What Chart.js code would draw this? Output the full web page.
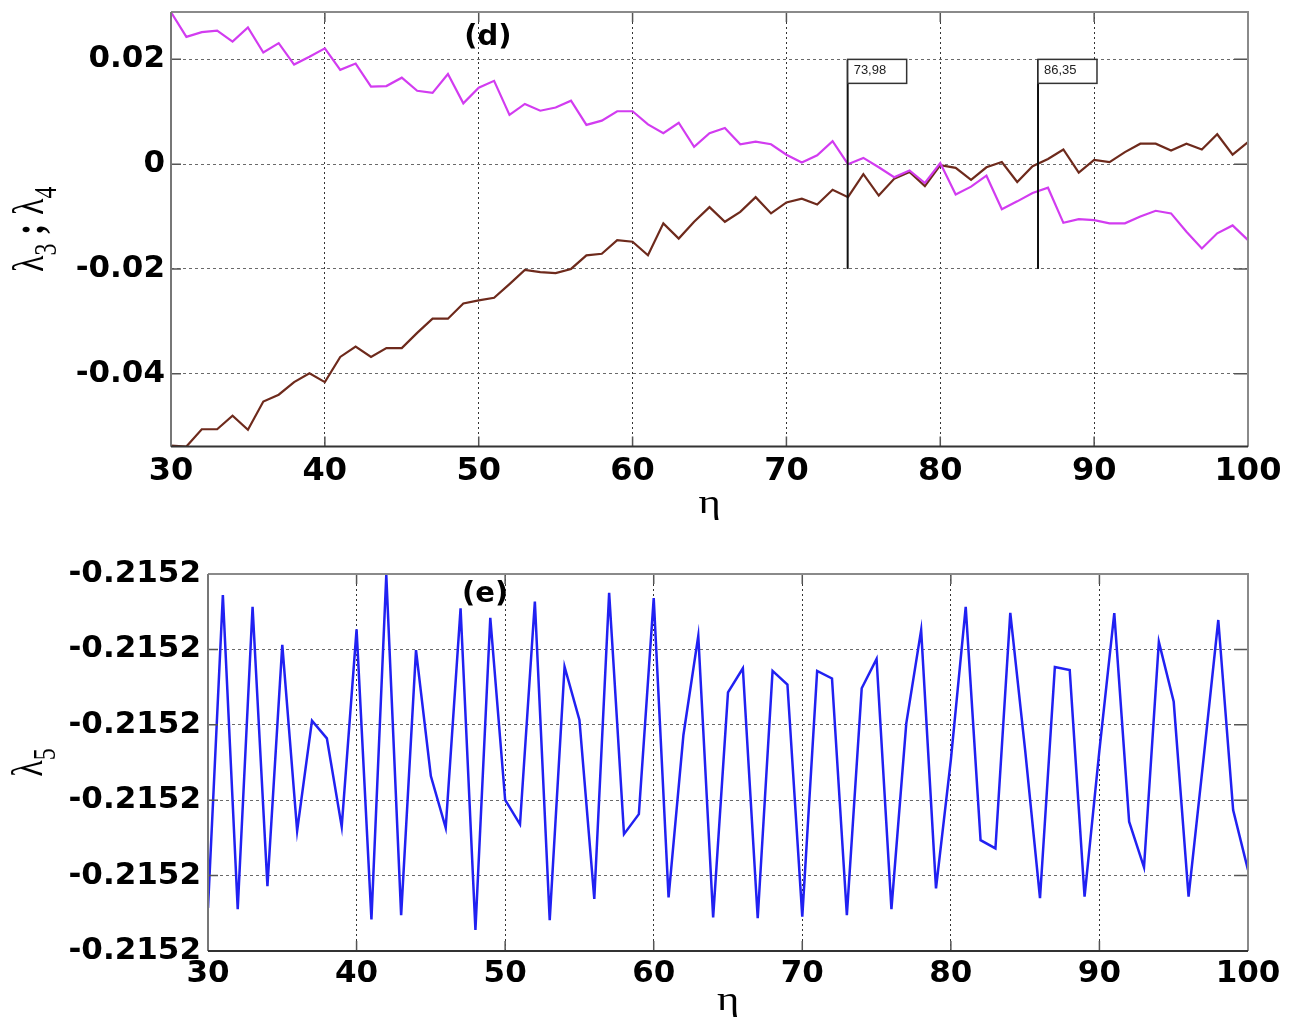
<!DOCTYPE html>
<html>
<head>
<meta charset="utf-8">
<title>Lyapunov exponents versus eta</title>
<script src="https://cdn.jsdelivr.net/npm/chart.js@4.4.1/dist/chart.umd.min.js"></script>
<style>
  html, body { margin: 0; padding: 0; background: #fff; }
  body { width: 1299px; height: 1017px; position: relative; overflow: hidden; }
  .panel { position: absolute; left: 0; width: 1299px; }
  #wrapD { top: 0; height: 525px; }
  #wrapE { top: 530px; height: 487px; }
</style>
</head>
<body>
<div class="panel" id="wrapD"><canvas id="chartD"></canvas></div>
<div class="panel" id="wrapE"><canvas id="chartE"></canvas></div>
<script>
// control parameter
const eta = [30, 31, 32, 33, 34, 35, 36, 37, 38, 39, 40, 41, 42, 43, 44, 45, 46, 47, 48, 49,
             50, 51, 52, 53, 54, 55, 56, 57, 58, 59, 60, 61, 62, 63, 64, 65, 66, 67, 68, 69,
             70, 71, 72, 73, 74, 75, 76, 77, 78, 79, 80, 81, 82, 83, 84, 85, 86, 87, 88, 89,
             90, 91, 92, 93, 94, 95, 96, 97, 98, 99, 100];

// panel (d): third and fourth exponents
const lambda3 = [0.0290, 0.0243, 0.0252, 0.0255, 0.0234, 0.0261, 0.0213, 0.0231, 0.0190, 0.0205,
                 0.0221, 0.0180, 0.0192, 0.0148, 0.0149, 0.0165, 0.0140, 0.0136, 0.0172, 0.0116,
                 0.0146, 0.0159, 0.0094, 0.0115, 0.0102, 0.0108, 0.0121, 0.0075, 0.0083, 0.0101,
                 0.0101, 0.0076, 0.0059, 0.0079, 0.0033, 0.0059, 0.0069, 0.0038, 0.0043, 0.0038,
                 0.0018, 0.0003, 0.0017, 0.0044, 0.0000, 0.0012, -0.0006, -0.0025, -0.0012, -0.0036,
                 0.0002, -0.0058, -0.0043, -0.0022, -0.0086, -0.0071, -0.0055, -0.0045, -0.0112, -0.0105,
                 -0.0107, -0.0113, -0.0113, -0.0100, -0.0089, -0.0094, -0.0129, -0.0161, -0.0132, -0.0117,
                 -0.0145];
const lambda4 = [-0.0537, -0.0539, -0.0506, -0.0506, -0.0480, -0.0507, -0.0453, -0.0440, -0.0416, -0.0399,
                 -0.0416, -0.0368, -0.0348, -0.0368, -0.0351, -0.0351, -0.0322, -0.0295, -0.0295, -0.0266,
                 -0.0260, -0.0255, -0.0229, -0.0202, -0.0206, -0.0208, -0.0200, -0.0174, -0.0171, -0.0145,
                 -0.0148, -0.0174, -0.0113, -0.0142, -0.0110, -0.0082, -0.0110, -0.0091, -0.0063, -0.0094,
                 -0.0073, -0.0066, -0.0077, -0.0049, -0.0063, -0.0019, -0.0060, -0.0028, -0.0015, -0.0042,
                 -0.0002, -0.0007, -0.0030, -0.0006, 0.0004, -0.0034, -0.0004, 0.0010, 0.0028, -0.0016,
                 0.0008, 0.0004, 0.0023, 0.0039, 0.0039, 0.0026, 0.0039, 0.0028, 0.0057, 0.0018,
                 0.0042];

// panel (e): fifth exponent
const lambda5 = [-0.21520886, -0.21520056, -0.21520889, -0.21520087, -0.21520828, -0.21520188, -0.21520681, -0.21520389, -0.21520436, -0.21520670,
                 -0.21520147, -0.21520916, -0.21520003, -0.21520905, -0.21520202, -0.21520536, -0.21520673, -0.21520091, -0.21520944, -0.21520116,
                 -0.21520599, -0.21520664, -0.21520073, -0.21520918, -0.21520246, -0.21520387, -0.21520862, -0.21520050, -0.21520690, -0.21520637,
                 -0.21520064, -0.21520858, -0.21520427, -0.21520164, -0.21520911, -0.21520314, -0.21520250, -0.21520913, -0.21520257, -0.21520293,
                 -0.21520909, -0.21520257, -0.21520277, -0.21520905, -0.21520303, -0.21520225, -0.21520889, -0.21520396, -0.21520149, -0.21520834,
                 -0.21520493, -0.21520087, -0.21520706, -0.21520728, -0.21520103, -0.21520467, -0.21520860, -0.21520247, -0.21520255, -0.21520856,
                 -0.21520467, -0.21520104, -0.21520657, -0.21520778, -0.21520180, -0.21520339, -0.21520856, -0.21520493, -0.21520122, -0.21520626,
                 -0.21520785];

// axes
const xTicks = [30, 40, 50, 60, 70, 80, 90, 100];
const yTicksD = [-0.04, -0.02, 0, 0.02];
const yTickLabelsD = ['-0.04', '-0.02', '0', '0.02'];
const yRangeD = [-0.05389, 0.02904];
const yTicksE = [-0.21521, -0.215208, -0.215206, -0.215204, -0.215202, -0.2152];
const yRangeE = [-0.21521, -0.2152];

// crossing markers on panel (d)
const markerEta = [73.98, 86.35];
const markerLabels = ['73,98', '86,35'];
const markerSpan = [-0.02, 0.02];

function toPoints(xs, ys) { return xs.map((x, i) => ({ x: x, y: ys[i] })); }

const tickFont = { family: 'DejaVu Sans', weight: 'bold', size: 31 };

// frame, inner tick marks, titles and annotations
function decorPlugin(cfg) {
  return {
    id: 'decor_' + cfg.name,
    afterDatasetsDraw(chart) {
      const ctx = chart.ctx;
      const a = chart.chartArea;
      const xs = chart.scales.x, ys = chart.scales.y;
      ctx.save();

      // markers with data-tip boxes
      if (cfg.markers) {
        cfg.markers.eta.forEach((m, i) => {
          const px = xs.getPixelForValue(m);
          const pTop = ys.getPixelForValue(cfg.markers.span[1]);
          const pBot = ys.getPixelForValue(cfg.markers.span[0]);
          ctx.strokeStyle = '#111';
          ctx.lineWidth = 2;
          ctx.setLineDash([]);
          ctx.beginPath();
          ctx.moveTo(px, pTop);
          ctx.lineTo(px, pBot);
          ctx.stroke();
          ctx.fillStyle = '#fff';
          ctx.fillRect(px, pTop, 59, 24);
          ctx.strokeStyle = '#333';
          ctx.lineWidth = 1.5;
          ctx.strokeRect(px, pTop, 59, 24);
          ctx.fillStyle = '#222';
          ctx.font = '13px "Liberation Sans", Arial, sans-serif';
          ctx.textAlign = 'left';
          ctx.textBaseline = 'middle';
          ctx.fillText(cfg.markers.labels[i], px + 6, pTop + 11);
        });
      }

      // inner tick marks
      ctx.strokeStyle = '#555';
      ctx.lineWidth = 1.5;
      ctx.setLineDash([]);
      xs.ticks.forEach(t => {
        const px = xs.getPixelForValue(t.value);
        ctx.beginPath();
        ctx.moveTo(px, a.bottom); ctx.lineTo(px, a.bottom - 10);
        ctx.moveTo(px, a.top); ctx.lineTo(px, a.top + 10);
        ctx.stroke();
      });
      ys.ticks.forEach(t => {
        const py = ys.getPixelForValue(t.value);
        ctx.beginPath();
        ctx.moveTo(a.left, py); ctx.lineTo(a.left + 10, py);
        ctx.moveTo(a.right, py); ctx.lineTo(a.right - 14, py);
        ctx.stroke();
      });

      // axes box
      ctx.lineWidth = 2;
      ctx.strokeStyle = '#8a8a8a';
      ctx.beginPath();
      ctx.moveTo(a.left, a.top); ctx.lineTo(a.right, a.top); ctx.lineTo(a.right, a.bottom);
      ctx.stroke();
      ctx.strokeStyle = '#777';
      ctx.beginPath();
      ctx.moveTo(a.left, a.top); ctx.lineTo(a.left, a.bottom);
      ctx.stroke();
      ctx.strokeStyle = '#333';
      ctx.beginPath();
      ctx.moveTo(a.left, a.bottom); ctx.lineTo(a.right, a.bottom);
      ctx.stroke();

      // panel tag
      ctx.fillStyle = '#000';
      ctx.font = 'bold 29px "DejaVu Sans", sans-serif';
      ctx.textAlign = 'center';
      ctx.textBaseline = 'middle';
      ctx.fillText(cfg.tag.text, xs.getPixelForValue(cfg.tag.x), ys.getPixelForValue(cfg.tag.y));

      // x title
      ctx.save();
      ctx.translate((a.left + a.right) / 2, cfg.xTitleBaseline);
      ctx.scale(1.25, 1);
      ctx.font = '34px "Liberation Serif", "DejaVu Serif", serif';
      ctx.textAlign = 'center';
      ctx.textBaseline = 'alphabetic';
      ctx.fillText('η', 0, 0);
      ctx.restore();

      // y title with subscripts, rotated
      ctx.save();
      ctx.translate(cfg.yTitleX, (a.top + a.bottom) / 2);
      ctx.rotate(-Math.PI / 2);
      ctx.scale(1, 1.3);
      ctx.textAlign = 'left';
      ctx.textBaseline = 'alphabetic';
      const mainFont = '34px "Liberation Serif", "DejaVu Serif", serif';
      const subFont = '24px "Liberation Serif", "DejaVu Serif", serif';
      const sepFont = 'bold 34px "Liberation Serif", "DejaVu Serif", serif';
      const fontFor = s => s[1] === 1 ? subFont : (s[1] === 2 ? sepFont : mainFont);
      let total = 0;
      cfg.yTitle.forEach(s => { ctx.font = fontFor(s); total += ctx.measureText(s[0]).width; });
      let cx = -total / 2;
      cfg.yTitle.forEach(s => {
        ctx.font = fontFor(s);
        ctx.fillText(s[0], cx, s[1] === 1 ? 10 : 0);
        cx += ctx.measureText(s[0]).width;
      });
      ctx.restore();

      ctx.restore();
    }
  };
}

function baseScales(opts) {
  return {
    x: {
      type: 'linear',
      min: 30,
      max: 100,
      afterBuildTicks: s => { s.ticks = xTicks.map(v => ({ value: v })); },
      afterFit: s => { s.height = opts.xHeight; s.paddingLeft = 0; s.paddingRight = 0; },
      ticks: {
        font: { family: 'DejaVu Sans', weight: 'bold', size: opts.xTickSize },
        color: '#000',
        padding: opts.xPad,
        maxRotation: 0,
        autoSkip: false,
        callback: v => String(v)
      },
      grid: { color: '#333', lineWidth: 1, drawTicks: false },
      border: { display: false, dash: [2, 3] }
    },
    y: {
      type: 'linear',
      min: opts.yRange[0],
      max: opts.yRange[1],
      afterBuildTicks: s => { s.ticks = opts.yTicks.map(v => ({ value: v })); },
      afterFit: s => { s.width = opts.yWidth; s.paddingTop = 0; s.paddingBottom = 0; },
      ticks: {
        font: tickFont,
        color: '#000',
        padding: opts.yPad,
        autoSkip: false,
        callback: opts.yLabel
      },
      grid: { color: '#6a6a6a', lineWidth: 1, drawTicks: false },
      border: { display: false, dash: [3, 3] }
    }
  };
}

const commonOptions = {
  responsive: true,
  maintainAspectRatio: false,
  devicePixelRatio: 1,
  animation: false,
  events: [],
  plugins: { legend: { display: false }, tooltip: { enabled: false } }
};

new Chart(document.getElementById('chartD'), {
  type: 'line',
  data: {
    datasets: [
      { label: 'λ3', data: toPoints(eta, lambda3), borderColor: '#d23cf0', borderWidth: 2.2, pointRadius: 0, tension: 0 },
      { label: 'λ4', data: toPoints(eta, lambda4), borderColor: '#6e2a1c', borderWidth: 2.2, pointRadius: 0, tension: 0 }
    ]
  },
  options: Object.assign({}, commonOptions, {
    layout: { padding: { top: 12, right: 51, left: 0, bottom: 0 } },
    scales: baseScales({
      xHeight: 78.5, xTickSize: 32, xPad: 6,
      yRange: yRangeD, yTicks: yTicksD, yWidth: 171, yPad: 6,
      yLabel: (v) => { const i = yTicksD.indexOf(v); return i >= 0 ? yTickLabelsD[i] : ''; }
    })
  }),
  plugins: [decorPlugin({
    name: 'd',
    markers: { eta: markerEta, labels: markerLabels, span: markerSpan },
    tag: { text: '(d)', x: 50.6, y: 0.0241 },
    xTitleBaseline: 513,
    yTitleX: 43,
    yTitle: [['λ', 0], ['3', 1], [' ; ', 2], ['λ', 0], ['4', 1]]
  })]
});

new Chart(document.getElementById('chartE'), {
  type: 'line',
  data: {
    datasets: [
      { label: 'λ5', data: toPoints(eta, lambda5), borderColor: '#2121f2', borderWidth: 2.5, pointRadius: 0, tension: 0 }
    ]
  },
  options: Object.assign({}, commonOptions, {
    layout: { padding: { top: 44, right: 51, left: 0, bottom: 0 } },
    scales: baseScales({
      xHeight: 66, xTickSize: 31, xPad: 4,
      yRange: yRangeE, yTicks: yTicksE, yWidth: 208, yPad: 7,
      yLabel: (v) => v.toFixed(4)
    })
  }),
  plugins: [decorPlugin({
    name: 'e',
    markers: null,
    tag: { text: '(e)', x: 48.65, y: -0.21520054 },
    xTitleBaseline: 480,
    yTitleX: 42,
    yTitle: [['λ', 0], ['5', 1]]
  })]
});
</script>
</body>
</html>
